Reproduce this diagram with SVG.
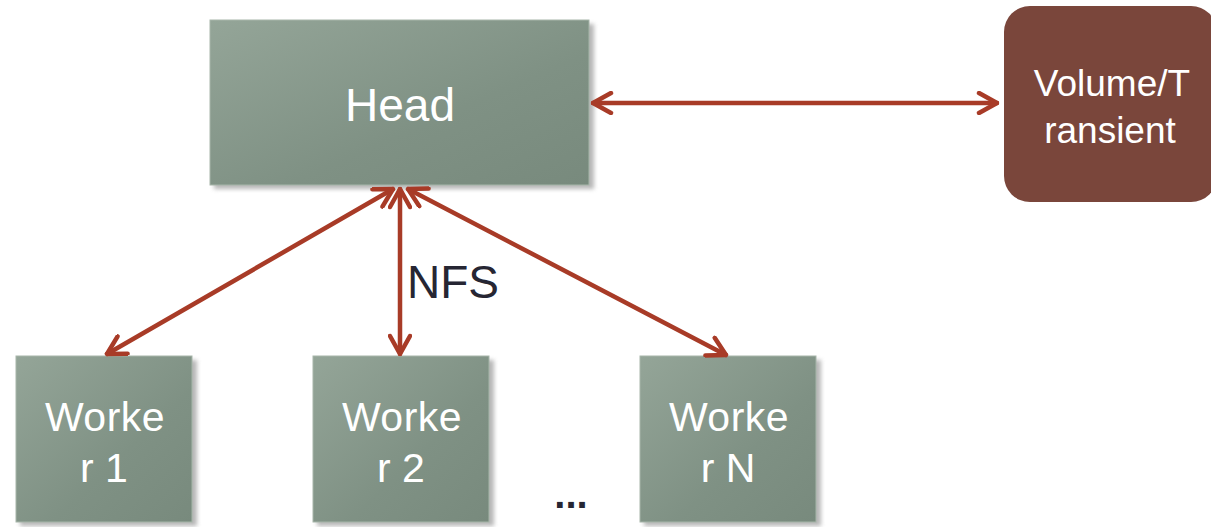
<svg xmlns="http://www.w3.org/2000/svg" width="1211" height="527" viewBox="0 0 1211 527">
<style>
.box{fill:url(#g);stroke:#a7b6aa;stroke-width:1}
.shadow{fill:#6f6f6f;opacity:0.5;filter:url(#blur)}
.lbl{font-family:"Liberation Sans",Arial,sans-serif;fill:#ffffff;text-anchor:middle}
.conn{stroke:#a83b27;stroke-width:4.5;fill:none;stroke-linecap:round;marker-start:url(#ah);marker-end:url(#ah)}
</style>
<defs>
<linearGradient id="g" x1="0" y1="0" x2="1" y2="1">
<stop offset="0" stop-color="#94a598"/>
<stop offset="0.6" stop-color="#7f9184"/>
<stop offset="1" stop-color="#788a7d"/>
</linearGradient>
<filter id="blur" x="-10%" y="-10%" width="120%" height="120%"><feGaussianBlur stdDeviation="2"/></filter>
<marker id="ah" viewBox="0 0 24 24" refX="22" refY="12" markerWidth="24" markerHeight="24" orient="auto-start-reverse" markerUnits="userSpaceOnUse">
<path d="M4 2 L22 12 L4 22" fill="none" stroke="#a83b27" stroke-width="4.5" stroke-linecap="round" stroke-linejoin="round"/>
</marker>
</defs>
<g id="head">
<rect class="shadow" x="214" y="24" width="380" height="165"/>
<rect class="box" x="210" y="20" width="379" height="165"/>
<text class="lbl" x="400" y="121" font-size="46">Head</text>
</g>
<g id="volume">
<rect x="1004" y="6" width="213" height="196" rx="26" fill="#7a463b"/>
<text class="lbl" x="1112" y="96" font-size="37">Volume/T</text>
<text class="lbl" x="1110" y="143" font-size="37">ransient</text>
</g>
<g id="worker1">
<rect class="shadow" x="20" y="360" width="177" height="166"/>
<rect class="box" x="16" y="356" width="176" height="166"/>
<text class="lbl" x="105" y="431" font-size="41" letter-spacing="0.5">Worke</text>
<text class="lbl" x="104" y="482" font-size="41">r 1</text>
</g>
<g id="worker2">
<rect class="shadow" x="317" y="360" width="177" height="166"/>
<rect class="box" x="313" y="356" width="176" height="166"/>
<text class="lbl" x="402" y="431" font-size="41" letter-spacing="0.5">Worke</text>
<text class="lbl" x="401" y="482" font-size="41">r 2</text>
</g>
<g id="workerN">
<rect class="shadow" x="644" y="360" width="177" height="166"/>
<rect class="box" x="640" y="356" width="176" height="166"/>
<text class="lbl" x="729" y="431" font-size="41" letter-spacing="0.5">Worke</text>
<text class="lbl" x="728" y="482" font-size="41">r N</text>
</g>
<g id="connectors">
<line class="conn" x1="593" y1="103" x2="997" y2="103"/>
<line class="conn" x1="393" y1="189" x2="107" y2="354"/>
<line class="conn" x1="400" y1="189" x2="400" y2="354"/>
<line class="conn" x1="408" y1="189" x2="726" y2="355"/>
</g>
<g id="labels">
<text x="407" y="298" font-family="Liberation Sans,Arial,sans-serif" font-size="46" fill="#262633">NFS</text>
<text x="571" y="508" font-family="Liberation Sans,Arial,sans-serif" font-size="40" font-weight="bold" fill="#262633" text-anchor="middle">...</text>
</g>
</svg>
